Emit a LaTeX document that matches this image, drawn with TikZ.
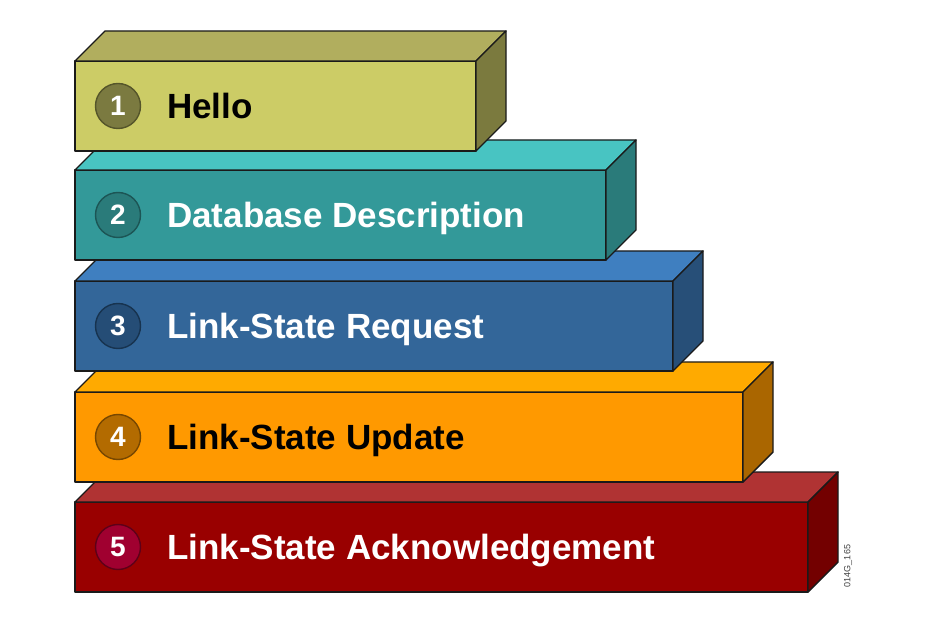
\documentclass[tikz,border=0pt]{standalone}
\usepackage{fontspec}
\setmainfont{Liberation Sans}
\usetikzlibrary{calc}
\definecolor{edge}{HTML}{1A1A1A}
\definecolor{c1front}{HTML}{CCCC66}\definecolor{c1top}{HTML}{B1AE5E}\definecolor{c1side}{HTML}{7B7A3E}\definecolor{c1circ}{HTML}{7B7A40}\definecolor{c1ring}{HTML}{55552A}
\definecolor{c2front}{HTML}{339999}\definecolor{c2top}{HTML}{48C4C2}\definecolor{c2side}{HTML}{2A7B7A}\definecolor{c2circ}{HTML}{2A7B7A}\definecolor{c2ring}{HTML}{1C5555}
\definecolor{c3front}{HTML}{336699}\definecolor{c3top}{HTML}{3F7FC0}\definecolor{c3side}{HTML}{274F78}\definecolor{c3circ}{HTML}{254D76}\definecolor{c3ring}{HTML}{17334F}
\definecolor{c4front}{HTML}{FF9900}\definecolor{c4top}{HTML}{FFAA00}\definecolor{c4side}{HTML}{AA6600}\definecolor{c4circ}{HTML}{B36B00}\definecolor{c4ring}{HTML}{774700}
\definecolor{c5front}{HTML}{990000}\definecolor{c5top}{HTML}{B03333}\definecolor{c5side}{HTML}{730000}\definecolor{c5circ}{HTML}{A00030}\definecolor{c5ring}{HTML}{5E0018}
\tikzset{
  face/.style={draw=edge, line width=1.4pt, line join=round},
  frontface/.style={face, rectangle, inner sep=0pt, outer sep=0pt, anchor=north west},
  badge/.style={circle, inner sep=0pt, minimum size=45pt, line width=1.4pt, text=white,
    font=\bfseries\fontsize{28}{28}\selectfont},
  steplabel/.style={anchor=base west, inner sep=0pt, font=\bfseries\fontsize{35}{35}\selectfont},
}
% #1 index, #2 top of front face (px from top), #3 right of front face, #4 text, #5 text colour
\newcommand{\slabbox}[5]{%
  \node[frontface, fill=c#1front, minimum width={(#3-75)*1pt}, minimum height=90pt] (f#1) at (75,627-#2) {};
  \filldraw[face, fill=c#1top] (f#1.north west) -- ++(30,30) -- ($(f#1.north east)+(30,30)$) -- (f#1.north east) -- cycle;
  \filldraw[face, fill=c#1side] (f#1.north east) -- ++(30,30) -- ++(0,-90) -- (f#1.south east) -- cycle;
  \node[badge, fill=c#1circ, draw=c#1ring] (n#1) at (118,627-#2-45) {#1};
  \node[steplabel, text=#5] (t#1) at (167,627-#2-57.5) {#4};
}
\begin{document}
\begin{tikzpicture}[x=1pt,y=1pt]
\useasboundingbox (0,0) rectangle (950,627);
\slabbox{5}{502}{808}{Link-State Acknowledgement}{white}
\slabbox{4}{392}{743}{Link-State Update}{black}
\slabbox{3}{281}{673}{Link-State Request}{white}
\slabbox{2}{170}{606}{Database Description}{white}
\slabbox{1}{61}{476}{Hello}{black}
\node[rotate=90, inner sep=0pt, text=black!75, font=\fontsize{9}{9}\selectfont] (code) at (848,61) {014G\_165};
\end{tikzpicture}
\end{document}
